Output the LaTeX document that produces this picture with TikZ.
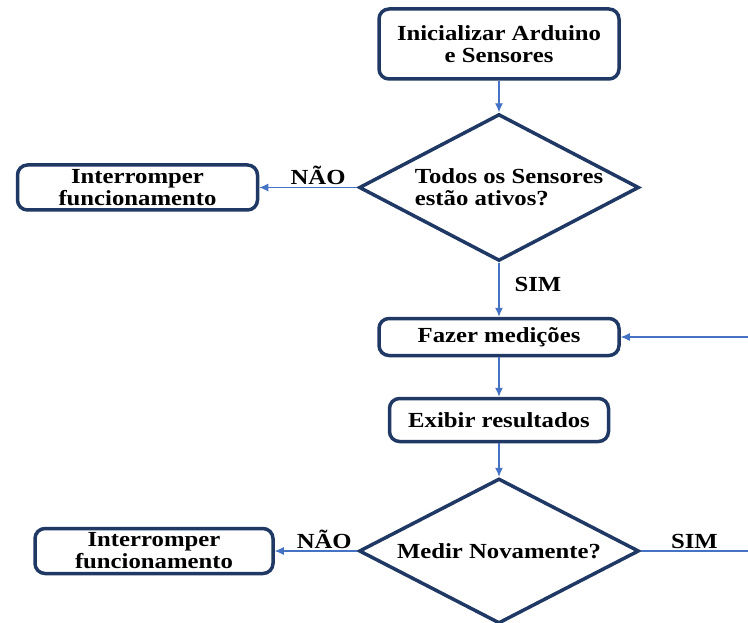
\documentclass[tikz,border=0pt]{standalone}
\usepackage{fontspec}
\setmainfont{Liberation Serif}[FakeStretch=1.15]
\usetikzlibrary{shapes.geometric,arrows.meta,positioning}

\definecolor{boxblue}{HTML}{1F3864}
\definecolor{lineblue}{HTML}{4472C4}

\tikzset{
  box/.style={draw=boxblue, line width=3.5pt, rounded corners=10pt, fill=white, align=center, inner sep=0pt},
  decision/.style={draw=boxblue, line width=3.5pt, diamond, aspect=1.9, inner sep=0pt},
  flow/.style={draw=lineblue, line width=1.2pt, -{Latex[length=9pt,width=8pt]}},
  link/.style={draw=lineblue, line width=1.2pt},
  tag/.style={inner sep=2pt}
}

\begin{document}
\begin{tikzpicture}[x=1pt, y=-1pt, font=\fontsize{21.5}{22}\selectfont\bfseries]
  \useasboundingbox (0,0) rectangle (748,623);

  %main column
  \node[box, minimum width=240pt, minimum height=70pt] (init) at (499,44) {Inicializar Arduino\\e Sensores};
  \node[decision, minimum width=280pt, minimum height=145pt, align=left] (check) at (499,187.5) {\hspace*{20pt}Todos os Sensores\\\hspace*{20pt}estão ativos?};
  \node[box, minimum width=240pt, minimum height=37pt] (measure) at (499,337) {Fazer medições};
  \node[box, minimum width=219pt, minimum height=43pt] (show) at (499,420) {Exibir resultados};
  \node[decision, minimum width=280pt, minimum height=145pt] (again) at (499,551) {Medir Novamente?};

  %stop boxes
  \node[box, minimum width=240pt, minimum height=45pt] (stopA) at (137.5,187.5) {Interromper\\funcionamento};
  \node[box, minimum width=238pt, minimum height=45pt] (stopB) at (154,551) {Interromper\\funcionamento};

  %loop ends at the right border
  \coordinate (loopR) at (748,551);
  \coordinate (loopF) at (748,337);

  %connectors
  \draw[flow] (init.south) -- (check.north);
  \draw[flow] (check.west) -- node[tag, pos=0.4, above] {NÃO} (stopA.east);
  \draw[flow] (check.south) -- node[tag, pos=0.4, right=13pt] {SIM} (measure.north);
  \draw[flow] (measure.south) -- (show.north);
  \draw[flow] (show.south) -- (again.north);
  \draw[flow] (again.west) -- node[tag, pos=0.4, above] {NÃO} (stopB.east);
  \draw[link] (again.east) -- node[tag, above] {SIM} (loopR);
  \draw[flow] (loopF) -- (measure.east);

\end{tikzpicture}
\end{document}
